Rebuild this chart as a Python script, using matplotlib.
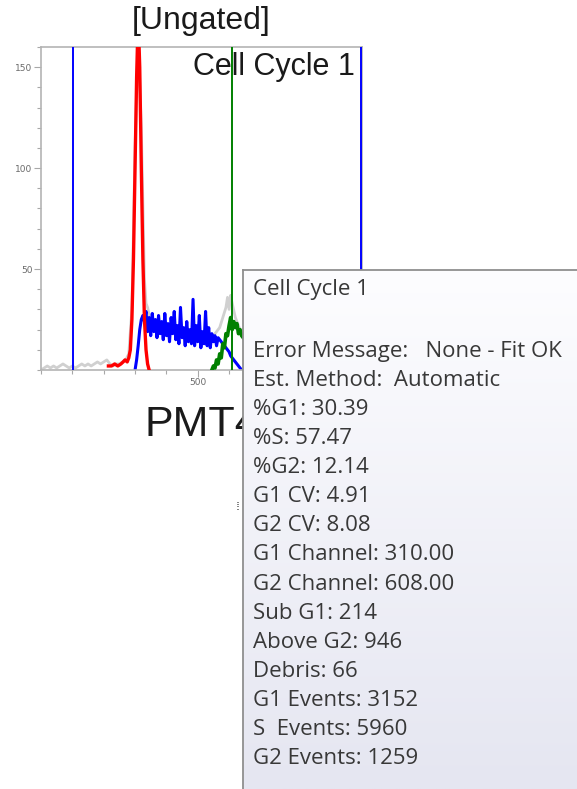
import numpy as np
import matplotlib
matplotlib.use("Agg")
import matplotlib.pyplot as plt
from matplotlib.ticker import FixedLocator, MultipleLocator

W, H, DPI = 577, 789, 100

# ---------------- data ----------------
grey_channel = [0, 10, 20, 30, 40, 50, 60, 70, 80, 90, 100, 110, 120, 130, 140, 150,
                160, 170, 180, 190, 200, 210, 220, 230, 240, 250, 260, 270, 280, 290,
                300, 310, 320, 330, 335, 340, 350, 360, 370, 380, 390, 400, 410, 420,
                430, 440, 450, 460, 470, 480, 490, 500, 510, 520, 530, 540, 550, 560,
                570, 580, 590, 595, 600, 605, 610, 620, 630, 640, 650]
grey_count = [0, 1, 2, 1, 2, 1, 2, 3, 2, 1, 2, 1, 2, 3, 2, 3,
              2, 3, 4, 3, 4, 5, 3, 2, 3, 3, 4, 5, 8, 30,
              110, 165, 120, 45, 33, 31, 24, 22, 20, 21, 19, 20, 18, 19,
              17, 18, 16, 17, 15, 18, 16, 15, 16, 14, 15, 16, 17, 19,
              21, 26, 31, 36, 30, 37, 33, 26, 22, 18, 16]

g1_channel = [215, 225, 235, 245, 255, 262, 268, 275, 280, 285, 290, 295, 300, 305,
              310, 315, 320, 325, 330, 335, 340, 345]
g1_count = [2, 2, 3, 2, 3, 4, 5, 4, 6, 10, 25, 55, 100, 145,
            175, 150, 100, 55, 25, 10, 3, 0]

s_channel = [300, 305, 310, 315, 320, 325, 330, 335, 340, 345, 350, 355, 360, 365,
             370, 375, 380, 385, 390, 395, 400, 405, 410, 415, 420, 425, 430, 435,
             440, 445, 450, 455, 460, 465, 470, 475, 480, 485, 490, 495, 500, 505,
             510, 515, 520, 525, 530, 535, 540, 545, 550, 555, 560, 565, 570, 575,
             580, 585, 590, 595, 600, 605, 610, 615, 620, 625, 630, 635, 640]
s_count = [0, 5, 12, 20, 25, 27, 24, 29, 19, 26, 17, 28, 19, 25,
           16, 27, 18, 24, 15, 28, 17, 23, 14, 26, 18, 29, 15, 22,
           13, 31, 16, 21, 12, 24, 14, 20, 13, 35, 12, 22, 14, 27,
           11, 19, 13, 29, 12, 21, 11, 18, 14, 17, 12, 16, 15, 14,
           13, 12, 11, 10, 9, 7, 6, 5, 4, 3, 2, 1, 0]

g2_channel = [545, 550, 555, 560, 565, 570, 575, 580, 585, 590, 595, 600, 605, 610,
              615, 620, 625, 630, 635, 640, 645, 650]
g2_count = [0, 2, 1, 5, 3, 8, 6, 13, 11, 18, 17, 22, 26, 20,
            24, 21, 23, 18, 20, 17, 16, 15]

range_markers = [102, 1020]
g2_marker = 608

x_major = [500, 1000]
y_major = [50, 100, 150]

title = "[Ungated]"
model_name = "Cell Cycle 1"
x_label = "PMT4"

tip_title = "Cell Cycle 1"
tip_lines = [
    "Error Message:   None - Fit OK",
    "Est. Method:  Automatic",
    "%G1: 30.39",
    "%S: 57.47",
    "%G2: 12.14",
    "G1 CV: 4.91",
    "G2 CV: 8.08",
    "G1 Channel: 310.00",
    "G2 Channel: 608.00",
    "Sub G1: 214",
    "Above G2: 946",
    "Debris: 66",
    "G1 Events: 3152",
    "S  Events: 5960",
    "G2 Events: 1259",
]

# ---------------- figure ----------------
fig = plt.figure(figsize=(W / DPI, H / DPI), dpi=DPI)
fig.patch.set_facecolor("white")

# main histogram axes (pixel box 41..362 x 47..370)
ax = fig.add_axes([41 / W, 1 - 370 / H, 321 / W, 323 / H])
ax.set_xlim(0, 1024)
ax.set_ylim(0, 160)

ax.plot(grey_channel, grey_count, color="#d0d0d0", lw=2.0, zorder=1)
ax.plot(s_channel, s_count, color="#0000ff", lw=2.2, zorder=2)
ax.plot(g1_channel, g1_count, color="#ff0000", lw=2.4, zorder=3)
ax.plot(g2_channel, g2_count, color="#008000", lw=2.6, zorder=3)
for m in range_markers:
    ax.axvline(m, color="#0000ff", lw=1.4, zorder=4)
ax.axvline(g2_marker, color="#008000", lw=1.4, zorder=4)

for s in ax.spines.values():
    s.set_color("#b4b4b4")
    s.set_linewidth(1.2)

ax.xaxis.set_major_locator(FixedLocator(x_major))
ax.xaxis.set_minor_locator(MultipleLocator(100))
ax.yaxis.set_major_locator(FixedLocator(y_major))
ax.yaxis.set_minor_locator(MultipleLocator(10))
ax.tick_params(which="major", direction="out", length=5, width=0.8,
               color="#a8a8a8", labelsize=6.5, labelcolor="#6a6a6a", pad=1)
ax.tick_params(which="minor", direction="out", length=3, width=0.8, color="#a8a8a8")

ax.text(0.978, 0.937, model_name, transform=ax.transAxes, ha="right", va="center",
        fontsize=22, family="Liberation Sans", color="#1a1a1a", zorder=5)

fig.text(201.5 / W, 1 - 21 / H, title, ha="center", va="center",
         fontsize=23, family="Liberation Sans", color="#1a1a1a")
fig.text(201.5 / W, 1 - 425 / H, x_label, ha="center", va="center",
         fontsize=31, family="Liberation Sans", color="#1a1a1a")
fig.text(238 / W, 1 - 506 / H, "\u205e", ha="center", va="center",
         fontsize=9, family="DejaVu Sans", color="#333333")

# tooltip overlay (pixel coordinates)
tip = fig.add_axes([243 / W, 0, (W - 243) / W, (H - 270) / H], zorder=10)
top_c = np.array([253, 253, 255]) / 255
bot_c = np.array([229, 230, 241]) / 255
t = np.linspace(0, 1, 256)[:, None]
grad = (1 - t)[:, :, None] * top_c + t[:, :, None] * bot_c
tip.imshow(grad, extent=(243, W, H, 270), aspect="auto", origin="upper",
           interpolation="bilinear")
tip.set_xlim(243, W)
tip.set_ylim(H, 270)
tip.set_xticks([])
tip.set_yticks([])
for side in ("right", "bottom"):
    tip.spines[side].set_visible(False)
for side in ("left", "top"):
    tip.spines[side].set_color("#8f8f8f")
    tip.spines[side].set_linewidth(1.3)

txt_kw = dict(ha="left", va="center", fontsize=16.0, family="Open Sans", color="#383838")
tip.text(253, 290, tip_title, **txt_kw)
row0, step = 351, 29.14
for i, line in enumerate(tip_lines):
    tip.text(253, row0 + i * step, line, **txt_kw)

fig.savefig("out.png", dpi=DPI, facecolor="white")
